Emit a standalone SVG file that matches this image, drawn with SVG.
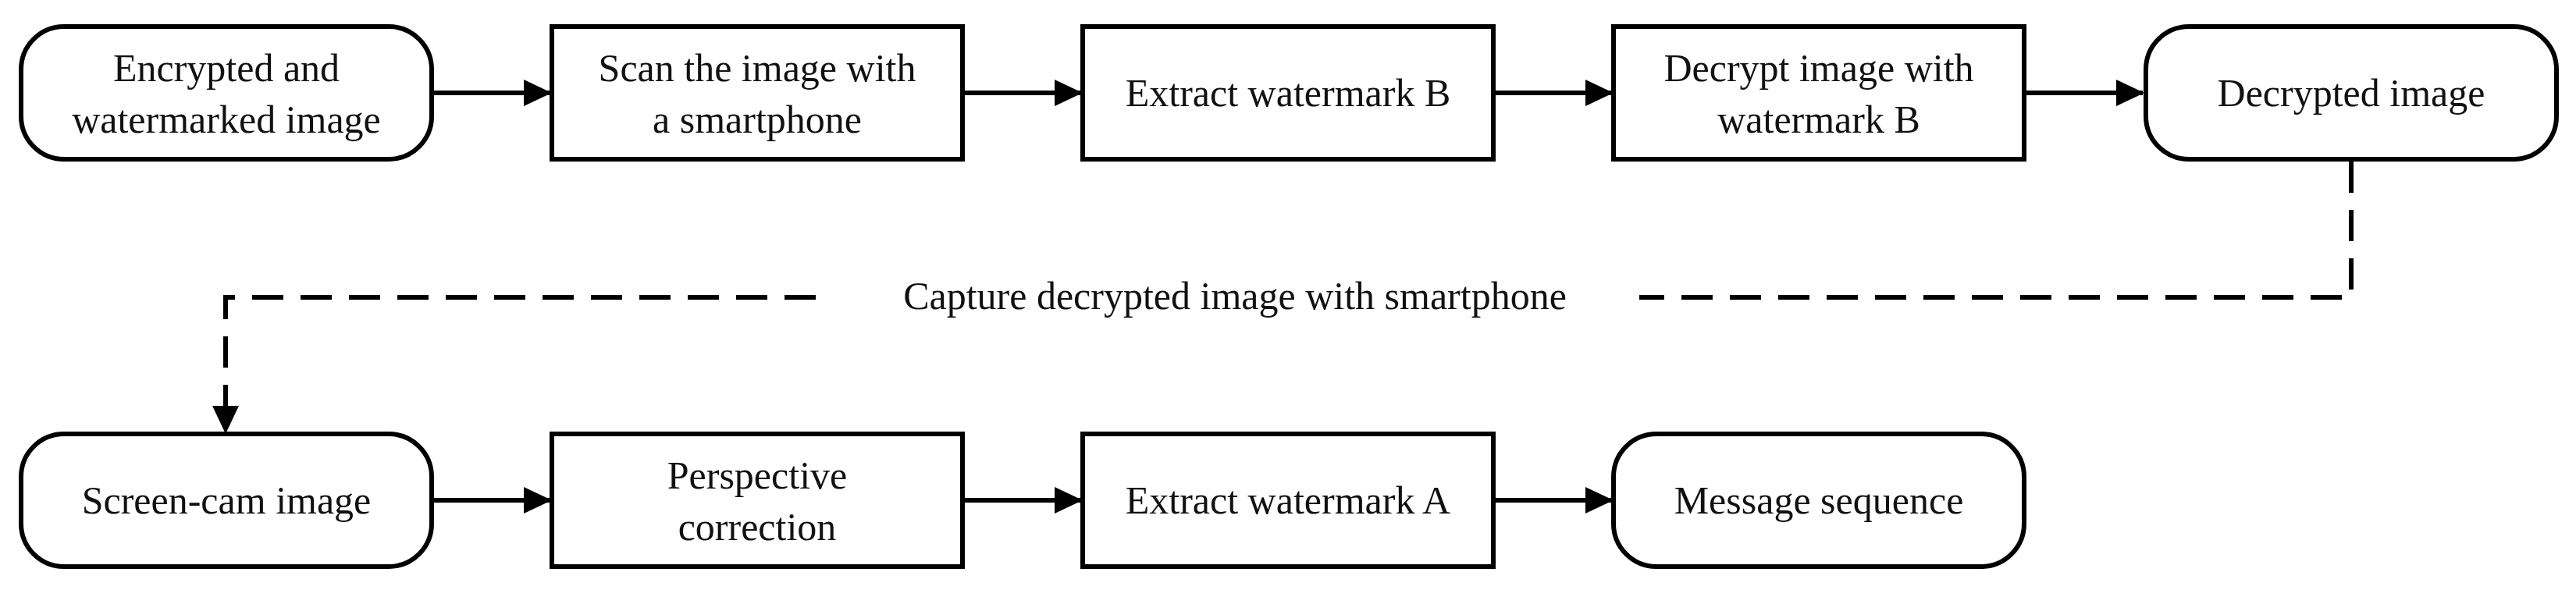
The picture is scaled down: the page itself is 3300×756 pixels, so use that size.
<svg xmlns="http://www.w3.org/2000/svg" width="3300" height="756" viewBox="0 0 3300 756">
<style>
.n{fill:#fff;stroke:#000;stroke-width:6}
text{font-family:"Liberation Serif",serif;font-size:50px;fill:#111;text-anchor:middle;dominant-baseline:central}
.c{fill:none;stroke:#000;stroke-width:6}
.d{stroke-dasharray:40 22}
</style>
<defs><marker id="a" markerUnits="userSpaceOnUse" markerWidth="36" markerHeight="34" refX="34" refY="17" orient="auto"><path d="M0,0L36,17L0,34Z" fill="#000"/></marker></defs>
<rect width="3300" height="756" fill="#fff"/>
<g id="connectors">
<line class="c" x1="553" y1="119" x2="705" y2="119" marker-end="url(#a)"/>
<line class="c" x1="1233" y1="119" x2="1385" y2="119" marker-end="url(#a)"/>
<line class="c" x1="1913" y1="119" x2="2065" y2="119" marker-end="url(#a)"/>
<line class="c" x1="2593" y1="119" x2="2745" y2="119" marker-end="url(#a)"/>
<line class="c" x1="553" y1="641" x2="705" y2="641" marker-end="url(#a)"/>
<line class="c" x1="1233" y1="641" x2="1385" y2="641" marker-end="url(#a)"/>
<line class="c" x1="1913" y1="641" x2="2065" y2="641" marker-end="url(#a)"/>
<path class="c d" d="M3012,207V381H2100"/>
<path class="c d" d="M1045,381H289V554" marker-end="url(#a)"/>
<text x="1582" y="379">Capture decrypted image with smartphone</text>
</g>
<g id="n1"><rect class="n" x="27" y="34" width="526" height="170" rx="55"/><text x="290" y="87">Encrypted and</text><text x="290" y="153">watermarked image</text></g>
<g id="n2"><rect class="n" x="707" y="34" width="526" height="170"/><text x="970" y="87">Scan the image with</text><text x="970" y="153">a smartphone</text></g>
<g id="n3"><rect class="n" x="1387" y="34" width="526" height="170"/><text x="1650" y="119">Extract watermark B</text></g>
<g id="n4"><rect class="n" x="2067" y="34" width="526" height="170"/><text x="2330" y="87">Decrypt image with</text><text x="2330" y="153">watermark B</text></g>
<g id="n5"><rect class="n" x="2749" y="34" width="526" height="170" rx="55"/><text x="3012" y="119">Decrypted image</text></g>
<g id="n6"><rect class="n" x="27" y="556" width="526" height="170" rx="55"/><text x="290" y="641">Screen-cam image</text></g>
<g id="n7"><rect class="n" x="707" y="556" width="526" height="170"/><text x="970" y="609">Perspective</text><text x="970" y="675">correction</text></g>
<g id="n8"><rect class="n" x="1387" y="556" width="526" height="170"/><text x="1650" y="641">Extract watermark A</text></g>
<g id="n9"><rect class="n" x="2067" y="556" width="526" height="170" rx="55"/><text x="2330" y="641">Message sequence</text></g>
</svg>
